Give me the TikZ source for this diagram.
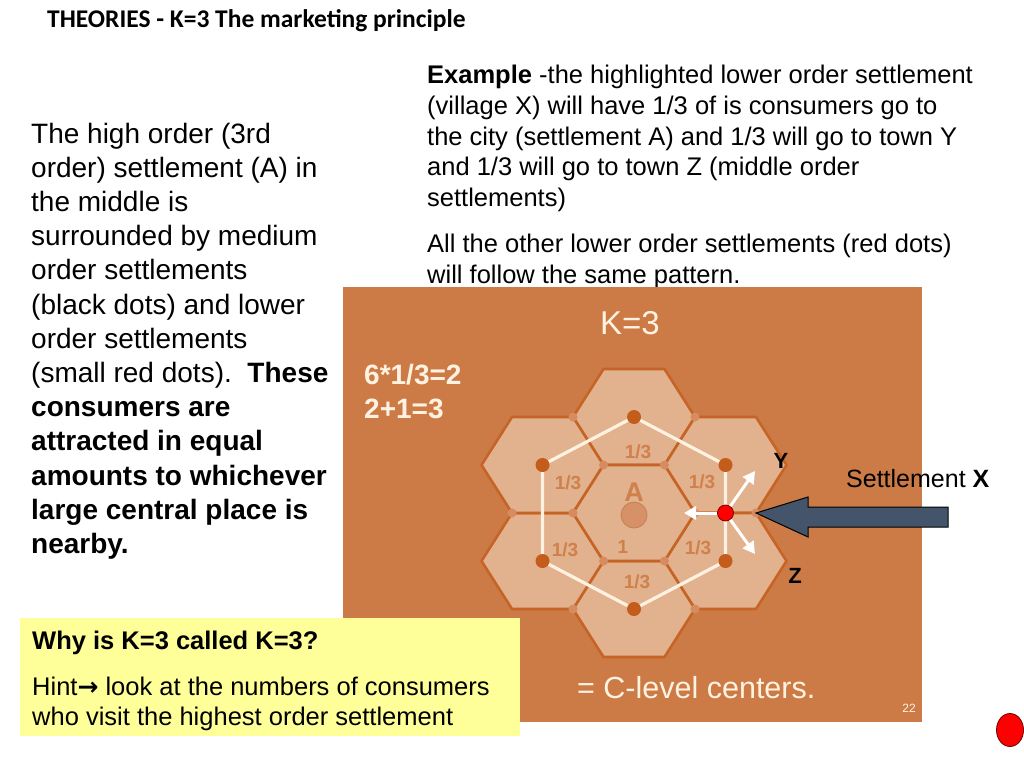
\documentclass[tikz,border=0pt]{standalone}
\usepackage{fontspec}
\setmainfont{Liberation Sans}
\newfontfamily\titlefont{Carlito}
\newfontfamily\symfont{DejaVu Sans}
\usetikzlibrary{arrows.meta}
\definecolor{panel}{RGB}{204,123,71}
\definecolor{hexfill}{RGB}{226,177,142}
\definecolor{hexline}{RGB}{198,100,38}
\definecolor{bigdotc}{RGB}{196,92,28}
\definecolor{smalldotc}{RGB}{214,140,96}
\definecolor{lblc}{RGB}{208,128,74}
\definecolor{cream}{RGB}{255,242,225}
\definecolor{hintbg}{RGB}{255,255,153}
\definecolor{arrowblue}{RGB}{68,84,106}
\begin{document}
\begin{tikzpicture}[x=1pt,y=-1pt,
  lefttxt/.style={anchor=base west, inner sep=0pt, font=\fontsize{28}{34}\selectfont},
  righttxt/.style={anchor=base west, inner sep=0pt, font=\fontsize{25.5}{30}\selectfont},
  hexstyle/.style={fill=hexfill, draw=hexline, line width=2.6pt, line join=round},
  hexcell/.pic={\draw[hexstyle] (-61,0) -- (-30.5,-48) -- (30.5,-48) -- (61,0) -- (30.5,48) -- (-30.5,48) -- cycle;},
  bigdot/.style={circle, fill=bigdotc, inner sep=0pt, minimum size=14pt},
  smalldot/.style={circle, fill=smalldotc, inner sep=0pt, minimum size=9pt},
  ring/.style={draw=cream, line width=3.2pt},
  lbl/.style={text=lblc, font=\bfseries\fontsize{19}{22}\selectfont, inner sep=0pt},
  warrow/.style={draw=white, line width=3pt, -{Triangle[length=12pt,width=13pt]}},
  paneltxt/.style={text=cream, inner sep=0pt},
  bigarrow/.style={fill=arrowblue, draw=black, line width=1pt, line join=miter}
]
\useasboundingbox (0,0) rectangle (1024,768);
\fill[white] (0,0) rectangle (1024,768);

% title
\node[anchor=base west, inner sep=0pt, font=\titlefont\bfseries\fontsize{25.5}{30}\selectfont] (title) at (47,28) {THEORIES - K=3 The marketing principle};

% left text
\node[lefttxt] (l1) at (31,143) {The high order (3rd};
\node[lefttxt] (l2) at (31,177.2) {order) settlement (A) in};
\node[lefttxt] (l3) at (31,211.4) {the middle is};
\node[lefttxt] (l4) at (31,245.6) {surrounded by medium};
\node[lefttxt] (l5) at (31,279.8) {order settlements};
\node[lefttxt] (l6) at (31,314) {(black dots) and lower};
\node[lefttxt] (l7) at (31,348.2) {order settlements};
\node[lefttxt] (l8) at (31,382.4) {(small red dots).\ \ \textbf{These}};
\node[lefttxt] (l9) at (31,416.6) {\textbf{consumers are}};
\node[lefttxt] (l10) at (31,450.8) {\textbf{attracted in equal}};
\node[lefttxt] (l11) at (31,485) {\textbf{amounts to whichever}};
\node[lefttxt] (l12) at (31,519.2) {\textbf{large central place is}};
\node[lefttxt] (l13) at (31,553.4) {\textbf{nearby.}};

% right text
\node[righttxt] (r1) at (427,83.5) {\textbf{Example} -the highlighted lower order settlement};
\node[righttxt] (r2) at (427,114.2) {(village X) will have 1/3 of is consumers go to};
\node[righttxt] (r3) at (427,145) {the city (settlement A) and 1/3 will go to town Y};
\node[righttxt] (r4) at (427,175.7) {and 1/3 will go to town Z (middle order};
\node[righttxt] (r5) at (427,206.5) {settlements)};
\node[righttxt] (r6) at (427,252.5) {All the other lower order settlements (red dots)};
\node[righttxt] (r7) at (427,283.2) {will follow the same pattern.};

% panel
\fill[panel] (343,287) rectangle (922,722);
\node[paneltxt, font=\fontsize{33}{36}\selectfont] (k3) at (630,323) {K=3};
\node[paneltxt, anchor=base west, font=\bfseries\fontsize{28}{32}\selectfont] (eq1) at (364,384.5) {6*1/3=2};
\node[paneltxt, anchor=base west, font=\bfseries\fontsize{28}{32}\selectfont] (eq2) at (364,418) {2+1=3};
\node[paneltxt, anchor=base west, font=\fontsize{30.5}{34}\selectfont] (clev) at (577,698) {= C-level centers.};
\node[paneltxt, font=\fontsize{12}{14}\selectfont] (pg) at (909,708) {22};

% hexagon centres
\coordinate (A) at (634,513);
\coordinate (T) at (634,417);
\coordinate (UR) at (725.5,465);
\coordinate (LR) at (725.5,561);
\coordinate (B) at (634,609);
\coordinate (LL) at (542.5,561);
\coordinate (UL) at (542.5,465);
\foreach \c in {T,UR,LR,B,LL,UL,A} \pic at (\c) {hexcell};

% white ring between middle order settlements
\draw[ring] (T) -- (UR) -- (LR) -- (B) -- (LL) -- (UL) -- cycle;

% small dots at shared vertices
\node[smalldot] (v1) at (573,513) {};
\node[smalldot] (v2) at (603.5,465) {};
\node[smalldot] (v3) at (664.5,465) {};
\node[smalldot] (v4) at (695,513) {};
\node[smalldot] (v5) at (664.5,561) {};
\node[smalldot] (v6) at (603.5,561) {};
\node[smalldot] (v7) at (573,417) {};
\node[smalldot] (v8) at (695,417) {};
\node[smalldot] (vR) at (756,513) {};
\node[smalldot] (v10) at (512,513) {};
\node[smalldot] (v11) at (695,609) {};
\node[smalldot] (v12) at (573,609) {};

% big dots
\foreach \c in {T,UR,LR,B,LL,UL} \node[bigdot] (d\c) at (\c) {};

% central place
\node[circle, fill={rgb,255:red,214;green,146;blue,102}, draw={rgb,255:red,196;green,128;blue,86}, line width=0.8pt, minimum size=26pt, inner sep=0pt] (cA) at (634,515) {};

% labels
\node[lbl] (t1) at (638,452) {1/3};
\node[lbl] (t2) at (568,483) {1/3};
\node[lbl] (t3) at (702,482) {1/3};
\node[lbl] (t4) at (565,550) {1/3};
\node[lbl] (t5) at (698,548) {1/3};
\node[lbl] (t6) at (637,582) {1/3};
\node[lbl, font=\bfseries\fontsize{27}{30}\selectfont] (tA) at (634,492) {A};
\node[lbl] (t1b) at (623,547) {1};

% village X and flows
\coordinate (xa) at (684,513);
\coordinate (xy) at (755,471);
\coordinate (xz) at (755,554);
\node[circle, fill=red, draw={rgb,255:red,120;green,0;blue,0}, line width=0.8pt, minimum size=16pt, inner sep=0pt] (X) at (725.5,513) {};
\draw[warrow] (X) -- (xa);
\draw[warrow] (X) -- (xy);
\draw[warrow] (X) -- (xz);

\node[font=\bfseries\fontsize{22}{26}\selectfont, inner sep=0pt] (Y) at (781,461) {Y};
\node[font=\bfseries\fontsize{22}{26}\selectfont, inner sep=0pt] (Z) at (795,576) {Z};

% big arrow pointing at settlement X
\node[anchor=base west, inner sep=0pt, font=\fontsize{25}{30}\selectfont] (sx) at (846,487) {Settlement \textbf{X}};
\draw[bigarrow] (vR.center) -- ++(52,-16) -- ++(0,10) -- ++(140,0) -- ++(0,20) -- ++(-140,0) -- ++(0,10) -- cycle;

% hint box
\fill[hintbg] (20,618) rectangle (520,736);
\node[righttxt] (h1) at (32,649) {\textbf{Why is K=3 called K=3?}};
\node[righttxt] (h2) at (32,695) {Hint{\symfont\bfseries\fontsize{25}{30}\selectfont →} look at the numbers of consumers};
\node[righttxt] (h3) at (32,725) {who visit the highest order settlement};

% red marker
\draw[fill=red, draw={rgb,255:red,110;green,0;blue,0}, line width=0.8pt] (1010,730) ellipse (13.5 and 16.5);
\end{tikzpicture}
\end{document}
